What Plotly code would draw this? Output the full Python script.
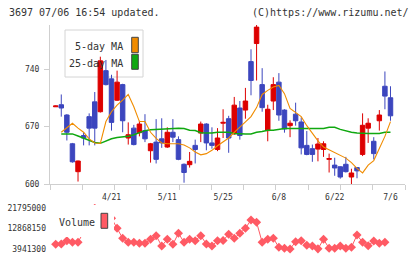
import plotly.graph_objects as go

# ---- data ----
dates = ["4/7", "4/8", "4/9", "4/12", "4/13", "4/14", "4/15", "4/16", "4/19", "4/20",
         "4/21", "4/22", "4/23", "4/26", "4/27", "4/28", "4/30", "5/6", "5/7", "5/10",
         "5/11", "5/12", "5/13", "5/14", "5/17", "5/18", "5/19", "5/20", "5/21", "5/24",
         "5/25", "5/26", "5/27", "5/28", "5/31", "6/1", "6/2", "6/3", "6/4", "6/7",
         "6/8", "6/9", "6/10", "6/11", "6/14", "6/15", "6/16", "6/17", "6/18", "6/21",
         "6/22", "6/23", "6/24", "6/25", "6/28", "6/29", "6/30", "7/1", "7/2", "7/5", "7/6"]

open_ = [694, 696.5, 684, 649, 615, 659, 682, 700, 688, 738,
         728, 702, 721, 656, 668, 662.5, 665, 640.5, 651, 655,
         645, 663, 654, 624, 623.5, 647, 662, 673, 650, 642,
         674, 679.5, 661, 692.5, 690, 749, 771, 721, 665, 701,
         724, 690, 671, 685, 675.5, 647, 643, 642.5, 642, 630,
         623, 621, 624, 608.5, 620, 636, 668, 652, 677, 719, 705]
high = [695.5, 709, 685, 650, 628.5, 663, 686, 712, 755, 751,
        733, 738, 722, 675, 672, 677, 685, 650, 679, 680,
        669, 679, 658, 625, 639, 654, 676, 674, 669, 668,
        691, 683, 706, 701, 717, 764, 794, 741, 696.5, 730,
        735, 691, 677.5, 699, 681, 664.5, 648, 656, 652, 637,
        632, 621.5, 633, 618.6, 620.5, 686, 680, 657, 690, 737, 719]
low = [694, 682, 653, 626, 603, 647, 647, 647, 687, 720,
       665, 701, 663, 648, 647, 658, 651, 626, 625, 644,
       644, 651, 629, 601.6, 620, 625, 651, 641, 643, 640,
       656, 638, 660, 654, 679.5, 708, 726, 688, 652, 690,
       677, 662.5, 657, 671, 636, 635, 627, 627.6, 633, 614,
       610, 606.5, 614, 600, 607, 634, 650, 630, 665, 691, 677]
close = [695, 692.5, 663, 627, 628, 656, 668, 668, 750, 721,
         675, 724, 677, 660, 648, 673, 655, 649, 630, 650,
         663, 657, 630, 614, 627.6, 642, 673, 650, 647, 656,
         675, 656, 696, 659, 701, 726, 791, 693, 691, 721,
         684, 667, 674, 677, 644, 636, 636, 648.7, 649, 631,
         619.5, 608.5, 615, 613.4, 616, 671.5, 674, 637, 684, 707, 683]

ma5 = [663, 669, 674, 668, 663, 655, 650, 649.5, 676, 688,
       696, 702, 709, 694, 676, 676, 663, 655.5, 650, 649,
       649, 649, 647.5, 644, 639, 635.5, 637, 641, 646.5, 651,
       656, 662.8, 669.5, 676, 682, 693, 709, 714, 718, 720,
       710, 692, 687.5, 682, 671, 661, 652.5, 645, 641.5, 638.5,
       635, 631.5, 626, 619, 613.5, 623, 628.5, 643, 658, 676]
ma25 = [661, 661, 661, 658.5, 656, 653, 650.5, 649.5, 652, 655,
        656.5, 657.5, 658, 660, 662.5, 665, 666, 666.5, 666.5, 667,
        668, 668, 667.5, 665.5, 665, 662.5, 662, 662, 663, 663,
        663, 661.5, 661, 661, 661, 663, 664, 665.5, 665.5, 666.5,
        667.5, 667.5, 667.5, 667.5, 667.5, 667.5, 667.5, 667.5, 669, 669,
        666.5, 664.5, 663, 662, 661.5, 661.5, 661.5, 661.5, 663, 663]
volume = [6000000, 6130000, 7580000, 6880000, 6880000, 11400000, 14900000, 21795000, 20200000, 18400000,
          17410000, 13020000, 8630000, 6880000, 6880000, 6440000, 6440000, 8200000, 9780000, 5260000,
          8200000, 6000000, 10830000, 6880000, 8200000, 7580000, 9780000, 6130000, 5260000, 7580000,
          7670000, 10390000, 8630000, 10830000, 13020000, 16660000, 15650000, 6880000, 8200000, 8630000,
          4690000, 4250000, 3941300, 7140000, 7580000, 5560000, 5260000, 4000000, 8200000, 4250000,
          4250000, 5260000, 4250000, 4690000, 10080000, 6880000, 5390000, 7450000, 6440000, 6880000]

tick_labels = ["4/21", "5/11", "5/25", "6/8", "6/22", "7/6"]
price_ticks = [600, 670, 740]
vol_ticks = [3941300, 12868150, 21795000]

# ---- styling ----
MONO = "DejaVu Sans Mono"
TXT = "#333333"
AX = "#cfcfcf"
RED = "#dd0000"
BLUE = "#3c46be"
ORANGE = "#f08c00"
GREEN = "#10a810"
VOL = "#ff5a64"

W, H = 420, 259
ML, MR, MT, MB = 50, 15, 25, 5
PW = W - ML - MR
PH = H - MT - MB


def px(x):
    return (x - ML) / PW


def py(y):
    return (H - MB - y) / PH


fig = go.Figure()

fig.add_trace(go.Candlestick(
    x=dates, open=open_, high=high, low=low, close=close,
    increasing=dict(fillcolor=RED, line=dict(color=RED, width=1)),
    decreasing=dict(fillcolor=BLUE, line=dict(color=BLUE, width=1)),
    whiskerwidth=0, showlegend=False, hoverinfo="skip",
    xaxis="x", yaxis="y"))

fig.add_trace(go.Scatter(x=dates[1:], y=ma25, mode="lines",
                         line=dict(color=GREEN, width=1.5),
                         showlegend=False, hoverinfo="skip", xaxis="x", yaxis="y"))
fig.add_trace(go.Scatter(x=dates[1:], y=ma5, mode="lines",
                         line=dict(color=ORANGE, width=1.1),
                         showlegend=False, hoverinfo="skip", xaxis="x", yaxis="y"))

fig.add_trace(go.Scatter(x=dates[1:], y=volume, mode="lines+markers",
                         line=dict(color=VOL, width=1),
                         marker=dict(symbol="diamond", size=7, color=VOL),
                         showlegend=False, hoverinfo="skip", xaxis="x2", yaxis="y2"))

# empty helper trace for the decorative evenly spaced tick axis
fig.add_trace(go.Scatter(x=[], y=[], xaxis="x3", yaxis="y", showlegend=False))

xr = [-1.0215, 62.6]
main_bottom = py(184)
vol_top_px, vol_bot_px = 204, 254
ppu = (249 - 208.3) / (vol_ticks[2] - vol_ticks[0])
vol_range = [vol_ticks[0] - (vol_bot_px - 249) / ppu, vol_ticks[2] + (208.3 - vol_top_px) / ppu]

fig.update_layout(
    width=W, height=H,
    margin=dict(l=ML, r=MR, t=MT, b=MB, autoexpand=False),
    paper_bgcolor="white", plot_bgcolor="white",
    showlegend=False,
    boxgap=0.2, boxgroupgap=0.0,
    font=dict(family=MONO, color=TXT, size=8),
    xaxis=dict(type="category", range=xr, domain=[0, 1], anchor="y",
               tickmode="array", tickvals=tick_labels, ticktext=tick_labels,
               ticks="", showgrid=False, zeroline=False, automargin=False,
               showline=True, linecolor=AX, linewidth=1,
               tickfont=dict(family=MONO, size=8, color=TXT),
               ticklabelstandoff=5,
               rangeslider=dict(visible=False)),
    xaxis3=dict(range=[0, 11], overlaying="x", anchor="y", side="bottom",
                tickmode="linear", tick0=0, dtick=1, ticks="outside", ticklen=5,
                tickcolor=AX, showticklabels=False, showline=False,
                showgrid=False, zeroline=False, automargin=False),
    yaxis=dict(domain=[main_bottom, 1], range=[600, 600 + 159 / 0.8214],
               tickmode="array", tickvals=price_ticks,
               ticks="outside", ticklen=5, tickcolor=AX,
               showline=True, linecolor=AX, linewidth=1,
               showgrid=False, zeroline=False, automargin=False,
               tickfont=dict(family=MONO, size=8, color=TXT),
               ticklabelstandoff=3),
    xaxis2=dict(type="category", range=xr, domain=[0, 1], anchor="y2",
                showticklabels=False, ticks="", showline=False,
                showgrid=False, zeroline=False, automargin=False),
    yaxis2=dict(domain=[0, py(vol_top_px)], range=vol_range,
                tickmode="array", tickvals=vol_ticks,
                ticktext=[str(v) for v in vol_ticks],
                ticks="", showline=False, showgrid=False, zeroline=False,
                automargin=False,
                tickfont=dict(family=MONO, size=8, color=TXT),
                ticklabelstandoff=3),
)

shapes = [
    # main legend box (below traces)
    dict(type="rect", xref="paper", yref="paper", layer="below",
         x0=px(65), x1=px(143), y0=py(77), y1=py(30),
         fillcolor="white", line=dict(color="#d4d4d4", width=1)),
    dict(type="rect", xref="paper", yref="paper", layer="above",
         x0=px(131.7), x1=px(138.3), y0=py(52.7), y1=py(37.3),
         fillcolor=ORANGE, line=dict(color="#444444", width=1)),
    dict(type="rect", xref="paper", yref="paper", layer="above",
         x0=px(131.7), x1=px(138.3), y0=py(69.3), y1=py(54.3),
         fillcolor=GREEN, line=dict(color="#444444", width=1)),
    # volume legend background and swatch
    dict(type="rect", xref="paper", yref="paper", layer="above",
         x0=px(55), x1=px(114), y0=py(237), y1=py(205),
         fillcolor="white", line=dict(width=0)),
    dict(type="rect", xref="paper", yref="paper", layer="above",
         x0=px(101), x1=px(107.7), y0=py(228.3), y1=py(213.3),
         fillcolor=VOL, line=dict(color="#444444", width=1)),
]
fig.update_layout(shapes=shapes)

ann_font = dict(family=MONO, size=10, color=TXT)
annotations = [
    dict(text="3697 07/06 16:54 updated.", xref="paper", yref="paper",
         x=px(7), y=py(12.5), xanchor="left", yanchor="middle",
         showarrow=False, font=ann_font),
    dict(text="(C)https://www.rizumu.net/", xref="paper", yref="paper",
         x=px(411), y=py(12.5), xanchor="right", yanchor="middle",
         showarrow=False, font=ann_font),
    dict(text="5-day MA", xref="paper", yref="paper",
         x=px(125), y=py(46.7), xanchor="right", yanchor="middle",
         showarrow=False, font=ann_font),
    dict(text="25-day MA", xref="paper", yref="paper",
         x=px(125), y=py(63.3), xanchor="right", yanchor="middle",
         showarrow=False, font=ann_font),
    dict(text="Volume", xref="paper", yref="paper",
         x=px(57), y=py(222.5), xanchor="left", yanchor="middle",
         showarrow=False, font=ann_font),
]
fig.update_layout(annotations=annotations)

fig.write_html("out.html")
